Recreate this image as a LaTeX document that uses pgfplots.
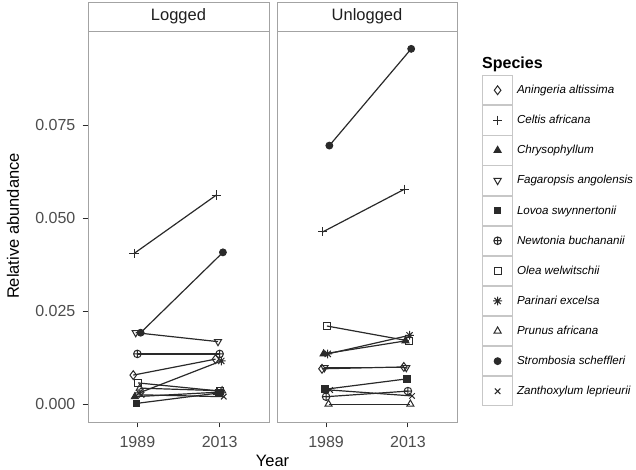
\documentclass[border=0pt]{standalone}
\usepackage{pgfplots}
\pgfplotsset{compat=1.18}
\usepackage{fontspec}
\setmainfont{Liberation Sans}

\definecolor{panelgray}{HTML}{A3A3A3}
\definecolor{ticklab}{HTML}{4D4D4D}
\definecolor{linecol}{HTML}{2A2A2A}

\pgfdeclareplotmark{plusx}{%
  \pgfpathmoveto{\pgfqpoint{\pgfplotmarksize}{0pt}}\pgfpathlineto{\pgfqpoint{-\pgfplotmarksize}{0pt}}%
  \pgfpathmoveto{\pgfqpoint{0pt}{\pgfplotmarksize}}\pgfpathlineto{\pgfqpoint{0pt}{-\pgfplotmarksize}}%
  \pgfpathmoveto{\pgfqpoint{0.707\pgfplotmarksize}{0.707\pgfplotmarksize}}\pgfpathlineto{\pgfqpoint{-0.707\pgfplotmarksize}{-0.707\pgfplotmarksize}}%
  \pgfpathmoveto{\pgfqpoint{-0.707\pgfplotmarksize}{0.707\pgfplotmarksize}}\pgfpathlineto{\pgfqpoint{0.707\pgfplotmarksize}{-0.707\pgfplotmarksize}}%
  \pgfusepathqstroke}

\pgfplotsset{
  sp0/.style={mark=diamond, mark size=4.4pt},
  sp1/.style={mark=+, mark size=4.6pt},
  sp2/.style={mark=triangle*, mark size=4.1pt},
  sp3/.style={mark=triangle, mark size=4.1pt, mark options={line width=1pt, rotate=180}},
  sp4/.style={mark=square*, mark size=3.3pt},
  sp5/.style={mark=oplus, mark size=3.8pt},
  sp6/.style={mark=square, mark size=3.5pt},
  sp7/.style={mark=plusx, mark size=4.4pt},
  sp8/.style={mark=triangle, mark size=4.1pt},
  sp9/.style={mark=*, mark size=3.4pt},
  sp10/.style={mark=x, mark size=3.9pt},
  panel/.style={
    scale only axis, height=391pt,
    xmin=-0.6, xmax=1.6, ymin=-0.0048, ymax=0.1003,
    axis line style={panelgray, line width=0.9pt},
    xtick={0,1}, xticklabels={1989,2013},
    tick align=outside, major tick length=5.5pt,
    xtick pos=left, ytick pos=left,
    tick style={color=linecol, line width=0.9pt},
    ticklabel style={font=\fontsize{16}{18}\selectfont, text=ticklab},
    xticklabel style={inner sep=0pt, yshift=-9pt},
    yticklabel style={inner sep=0pt, xshift=-7pt},
    clip=false,
    every axis plot/.append style={color=linecol, line width=1.2pt, mark options={line width=1pt}},
  },
}

\begin{document}
\begin{tikzpicture}
\path[use as bounding box] (0,0) rectangle (636pt,470pt);

\begin{axis}[panel, at={(88pt,48pt)}, anchor=south west, width=181pt,
  ytick={0,0.025,0.05,0.075}, yticklabels={0.000,0.025,0.050,0.075}]
\addplot[sp0]  coordinates {(-0.05,0.0078) (0.95,0.0121)};
\addplot[sp1]  coordinates {(-0.04,0.0405) (0.96,0.0562)};
\addplot[sp2]  coordinates {(-0.03,0.0020) (0.97,0.0032)};
\addplot[sp3]  coordinates {(-0.02,0.0192) (0.98,0.0168)};
\addplot[sp4]  coordinates {(-0.01,0.0002) (0.99,0.0030)};
\addplot[sp5]  coordinates {(0.00,0.0135) (1.00,0.0135)};
\addplot[sp6]  coordinates {(0.01,0.0057) (1.01,0.0035)};
\addplot[sp7]  coordinates {(0.02,0.0030) (1.02,0.0116)};
\addplot[sp8]  coordinates {(0.03,0.0043) (1.03,0.0036)};
\addplot[sp9]  coordinates {(0.04,0.0192) (1.04,0.0408)};
\addplot[sp10] coordinates {(0.05,0.0025) (1.05,0.0020)};
\end{axis}

\begin{axis}[panel, at={(277pt,48pt)}, anchor=south west, width=180pt,
  ytick=\empty,
  legend style={at={(1,1)}, anchor=north west, xshift=25pt, yshift=-44pt,
    draw=none, fill=none, inner sep=0pt, row sep=0pt, column sep=4pt,
    font=\itshape\fontsize{11.6}{14}\selectfont,
    nodes={inner sep=0pt}},
  legend cell align=left,
  legend image code/.code={%
    \draw[draw=black!22, fill=white, line width=0.8pt, solid] (0pt,-14.65pt) rectangle (30pt,14.65pt);
    \draw[#1] plot coordinates {(15pt,0pt)};
  }]
\addplot[sp0]  coordinates {(-0.05,0.0095) (0.95,0.0100)};
\addlegendentry{Aningeria altissima}
\addplot[sp1]  coordinates {(-0.04,0.0463) (0.96,0.0578)};
\addlegendentry{Celtis africana}
\addplot[sp2]  coordinates {(-0.03,0.0135) (0.97,0.0170)};
\addlegendentry{Chrysophyllum}
\addplot[sp3]  coordinates {(-0.02,0.0098) (0.98,0.0098)};
\addlegendentry{Fagaropsis angolensis}
\addplot[sp4]  coordinates {(-0.01,0.0040) (0.99,0.0068)};
\addlegendentry{Lovoa swynnertonii}
\addplot[sp5]  coordinates {(0.00,0.0020) (1.00,0.0035)};
\addlegendentry{Newtonia buchananii}
\addplot[sp6]  coordinates {(0.01,0.0210) (1.01,0.0170)};
\addlegendentry{Olea welwitschii}
\addplot[sp7]  coordinates {(0.02,0.0135) (1.02,0.0185)};
\addlegendentry{Parinari excelsa}
\addplot[sp8]  coordinates {(0.03,0.0000) (1.03,0.0000)};
\addlegendentry{Prunus africana}
\addplot[sp9]  coordinates {(0.04,0.0695) (1.04,0.0955)};
\addlegendentry{Strombosia scheffleri}
\addplot[sp10] coordinates {(0.05,0.0038) (1.05,0.0022)};
\addlegendentry{Zanthoxylum leprieurii}
\end{axis}

% facet strips
\draw[panelgray, line width=0.9pt, fill=white] (88pt,439pt) rectangle (269pt,468pt);
\node[font=\fontsize{16.5}{18}\selectfont, text=black!88] at (178.5pt,453.5pt) {Logged};
\draw[panelgray, line width=0.9pt, fill=white] (277pt,439pt) rectangle (457pt,468pt);
\node[font=\fontsize{16.5}{18}\selectfont, text=black!88] at (367pt,453.5pt) {Unlogged};

% axis titles
\node[rotate=90, font=\fontsize{16.5}{18}\selectfont] at (13pt,244pt) {Relative abundance};
\node[anchor=base, font=\fontsize{16.5}{18}\selectfont] at (272.5pt,3pt) {Year};

% legend title
\node[anchor=base west, font=\bfseries\fontsize{16}{18}\selectfont, inner sep=0pt] at (482pt,401pt) {Species};
\end{tikzpicture}
\end{document}
